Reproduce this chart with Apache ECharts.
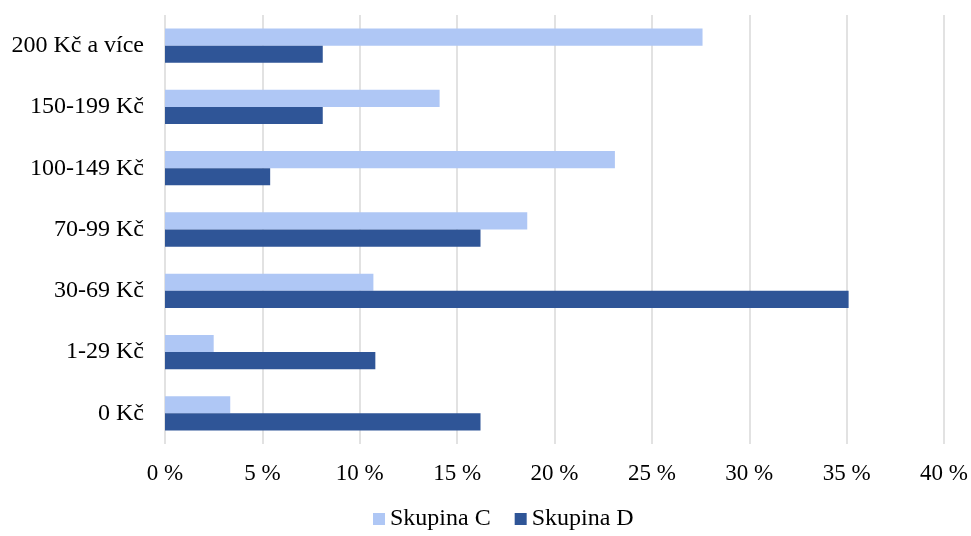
<!DOCTYPE html>
<html>
<head>
<meta charset="utf-8">
<script src="https://cdn.jsdelivr.net/npm/echarts@6/dist/echarts.min.js"></script>
<style>
  html, body { margin: 0; padding: 0; background: #fff; }
  #chart { width: 971px; height: 536px; }
</style>
</head>
<body>
<div id="chart"></div>
<script>
// Price bands, listed from the bottom of the chart upwards
const categories = ['0 Kč', '1-29 Kč', '30-69 Kč', '70-99 Kč', '100-149 Kč', '150-199 Kč', '200 Kč a více'];
const seriesNames = ['Skupina C', 'Skupina D'];
const skupinaC = [3.35, 2.5, 10.7, 18.6, 23.1, 14.1, 27.6];
const skupinaD = [16.2, 10.8, 35.1, 16.2, 5.4, 8.1, 8.1];
const xTicks = { min: 0, max: 40, interval: 5 };

const font = '"Liberation Serif", "Times New Roman", serif';
const chart = echarts.init(document.getElementById('chart'));

chart.setOption({
  animation: false,
  backgroundColor: '#ffffff',
  textStyle: { fontFamily: font },
  grid: { left: 165, right: 25, top: 15, bottom: 92, containLabel: false },
  legend: {
    bottom: 0,
    left: 368,
    icon: 'rect',
    itemWidth: 12,
    itemHeight: 12,
    itemGap: 24,
    textStyle: { fontFamily: font, fontSize: 24, color: '#000' },
    data: seriesNames
  },
  xAxis: {
    type: 'value',
    min: xTicks.min,
    max: xTicks.max,
    interval: xTicks.interval,
    axisLine: { show: false },
    axisTick: { show: false },
    axisLabel: {
      formatter: v => v + ' %',
      fontFamily: font,
      fontSize: 23,
      color: '#000',
      margin: 18
    },
    splitLine: { show: true, lineStyle: { color: '#d9d9d9', width: 1.5 } }
  },
  yAxis: {
    type: 'category',
    data: categories,
    axisLine: { show: false },
    axisTick: { show: false },
    axisLabel: { fontFamily: font, fontSize: 24, color: '#000', margin: 21 }
  },
  series: [
    {
      name: seriesNames[0],
      type: 'bar',
      data: skupinaC,
      itemStyle: { color: '#afc7f5' },
      barGap: '0%',
      barCategoryGap: '44%'
    },
    {
      name: seriesNames[1],
      type: 'bar',
      data: skupinaD,
      itemStyle: { color: '#2f5597' },
      barGap: '0%',
      barCategoryGap: '44%'
    }
  ]
});
</script>
</body>
</html>
